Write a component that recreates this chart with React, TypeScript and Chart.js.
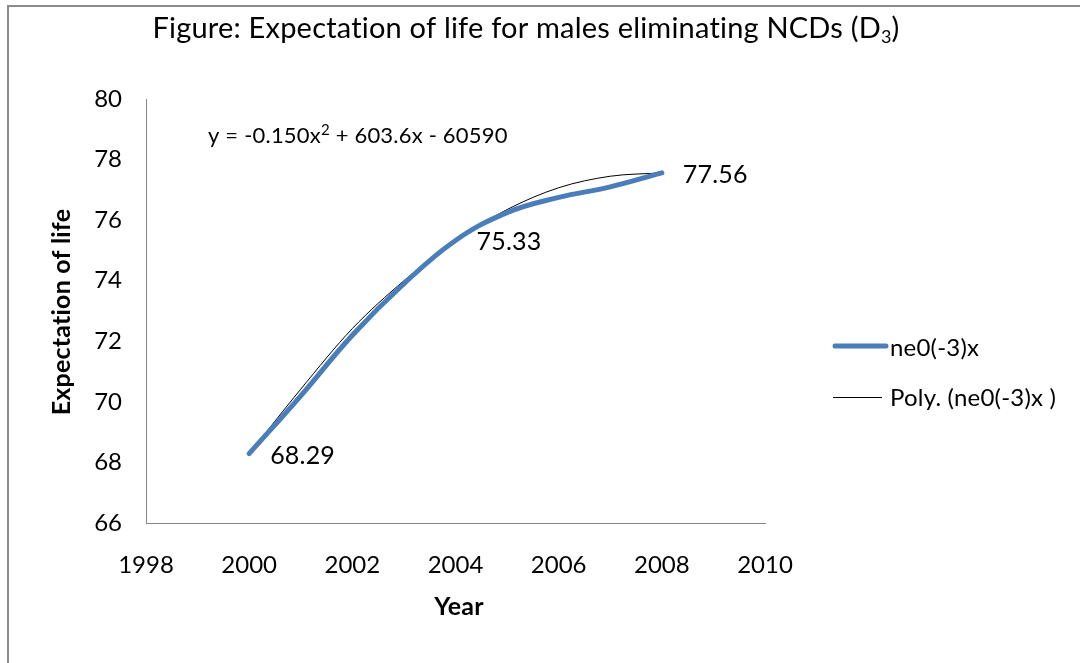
import React, { useEffect, useRef } from "react";
import { Chart, registerables } from "chart.js";

Chart.register(...registerables);

// ---- data ----
const years = [2000, 2001, 2002, 2003, 2004, 2005, 2006, 2007, 2008];
const lifeExpectancy = [68.29, 70.2, 72.2, 73.9, 75.33, 76.25, 76.75, 77.1, 77.56];
const polyTrend = [68.29, 70.42, 72.42, 74.0, 75.33, 76.35, 77.07, 77.45, 77.56];
const labelledYears = [2000, 2004, 2008];
const xRange = [1998, 2010];
const yRange = [66, 80];
const tickStep = 2;

const seriesName = "ne0(-3)x";
const trendName = "Poly. (ne0(-3)x )";
const titleMain = "Figure: Expectation of life for males eliminating NCDs (D";
const titleSub = "3";
const titleEnd = ")";
const equationParts = ["y = -0.150x", "2", " + 603.6x - 60590"];
const xTitle = "Year";
const yTitle = "Expectation of life";

const FONT = "Lato, 'Open Sans', sans-serif";
const BLUE = "#4A7EBB";
const AXIS = "#868686";

const overlay = {
  id: "overlay",
  afterDraw(chart: any) {
    const ctx = chart.ctx as CanvasRenderingContext2D;
    ctx.save();
    // tiny letter spacing disables ligatures (e.g. "ti")
    (ctx as any).letterSpacing = "0.2px";

    // outer frame (only left and top edges visible)
    ctx.strokeStyle = "#8c8c8c";
    ctx.lineWidth = 2;
    ctx.beginPath();
    ctx.moveTo(8, 700);
    ctx.lineTo(8, 6);
    ctx.lineTo(1100, 6);
    ctx.stroke();

    ctx.fillStyle = "#000";
    // title
    ctx.textBaseline = "alphabetic";
    ctx.textAlign = "left";
    ctx.font = `29px ${FONT}`;
    const wMain = ctx.measureText(titleMain).width;
    ctx.font = `18px ${FONT}`;
    const wSub = ctx.measureText(titleSub).width;
    ctx.font = `29px ${FONT}`;
    const wEnd = ctx.measureText(titleEnd).width;
    const total = wMain + wSub + wEnd;
    let tx = 526 - total / 2;
    const ty = 38;
    ctx.fillText(titleMain, tx, ty);
    tx += wMain;
    ctx.font = `18px ${FONT}`;
    ctx.fillText(titleSub, tx, ty + 5);
    tx += wSub;
    ctx.font = `29px ${FONT}`;
    ctx.fillText(titleEnd, tx, ty);

    // trendline equation
    let ex = 208;
    const ey = 143;
    ctx.font = `22px ${FONT}`;
    ctx.fillText(equationParts[0], ex, ey);
    ex += ctx.measureText(equationParts[0]).width;
    ctx.font = `15px ${FONT}`;
    ctx.fillText(equationParts[1], ex, ey - 8);
    ex += ctx.measureText(equationParts[1]).width;
    ctx.font = `22px ${FONT}`;
    ctx.fillText(equationParts[2], ex, ey);

    // data labels
    const meta = chart.getDatasetMeta(0);
    ctx.font = `25px ${FONT}`;
    ctx.textBaseline = "middle";
    labelledYears.forEach((yr) => {
      const i = years.indexOf(yr);
      const pt = meta.data[i];
      if (!pt) return;
      ctx.fillText(lifeExpectancy[i].toFixed(2), pt.x + 21, pt.y + 2);
    });

    // axis titles
    ctx.font = `bold 25px ${FONT}`;
    ctx.textAlign = "center";
    ctx.fillText(xTitle, 459, 607);
    ctx.save();
    ctx.translate(62, 312);
    ctx.rotate(-Math.PI / 2);
    ctx.fillText(yTitle, 0, 0);
    ctx.restore();

    // legend
    ctx.textAlign = "left";
    ctx.font = `24px ${FONT}`;
    ctx.lineCap = "round";
    ctx.strokeStyle = BLUE;
    ctx.lineWidth = 5;
    ctx.beginPath();
    ctx.moveTo(835, 346);
    ctx.lineTo(886, 346);
    ctx.stroke();
    ctx.fillText(seriesName, 890, 348);
    ctx.lineCap = "butt";
    ctx.strokeStyle = "#000";
    ctx.lineWidth = 1;
    ctx.beginPath();
    ctx.moveTo(833, 397.5);
    ctx.lineTo(882, 397.5);
    ctx.stroke();
    ctx.fillText(trendName, 890, 398);

    ctx.restore();
  },
};

export default function App() {
  const ref = useRef<HTMLCanvasElement | null>(null);

  useEffect(() => {
    if (!ref.current) return;
    const chart = new Chart(ref.current, {
      type: "line",
      data: {
        datasets: [
          {
            label: seriesName,
            data: years.map((x, i) => ({ x, y: lifeExpectancy[i] })),
            borderColor: BLUE,
            borderWidth: 5,
            pointRadius: 0,
            tension: 0.4,
            fill: false,
            borderCapStyle: "round",
          },
          {
            label: trendName,
            data: years.map((x, i) => ({ x, y: polyTrend[i] })),
            borderColor: "#000",
            borderWidth: 1,
            pointRadius: 0,
            cubicInterpolationMode: "monotone",
            fill: false,
          },
        ],
      },
      options: {
        responsive: false,
        animation: false,
        layout: { padding: { top: 99, right: 315, left: 0, bottom: 0 } },
        plugins: {
          legend: { display: false },
          title: { display: false },
          tooltip: { enabled: false },
        },
        scales: {
          x: {
            type: "linear",
            min: xRange[0],
            max: xRange[1],
            ticks: {
              stepSize: tickStep,
              callback: (v: any) => String(v),
              font: { family: FONT, size: 24 },
              color: "#000",
              padding: 28,
              maxRotation: 0,
            },
            grid: { display: false, drawTicks: false },
            border: { display: true, color: AXIS, width: 1 },
            afterFit: (s: any) => {
              s.height = 140;
            },
          },
          y: {
            type: "linear",
            min: yRange[0],
            max: yRange[1],
            ticks: {
              stepSize: tickStep,
              font: { family: FONT, size: 24 },
              color: "#000",
              padding: 24,
            },
            grid: { display: false, drawTicks: false },
            border: { display: true, color: AXIS, width: 1 },
            afterFit: (s: any) => {
              s.width = 146;
            },
          },
        },
      },
      plugins: [overlay],
    });
    return () => chart.destroy();
  }, []);

  return (
    <div
      style={{
        position: "fixed",
        left: 0,
        top: 0,
        width: 1080,
        height: 663,
        background: "#fff",
      }}
    >
      <canvas ref={ref} width={1080} height={663} style={{ display: "block", width: 1080, height: 663 }} />
    </div>
  );
}
